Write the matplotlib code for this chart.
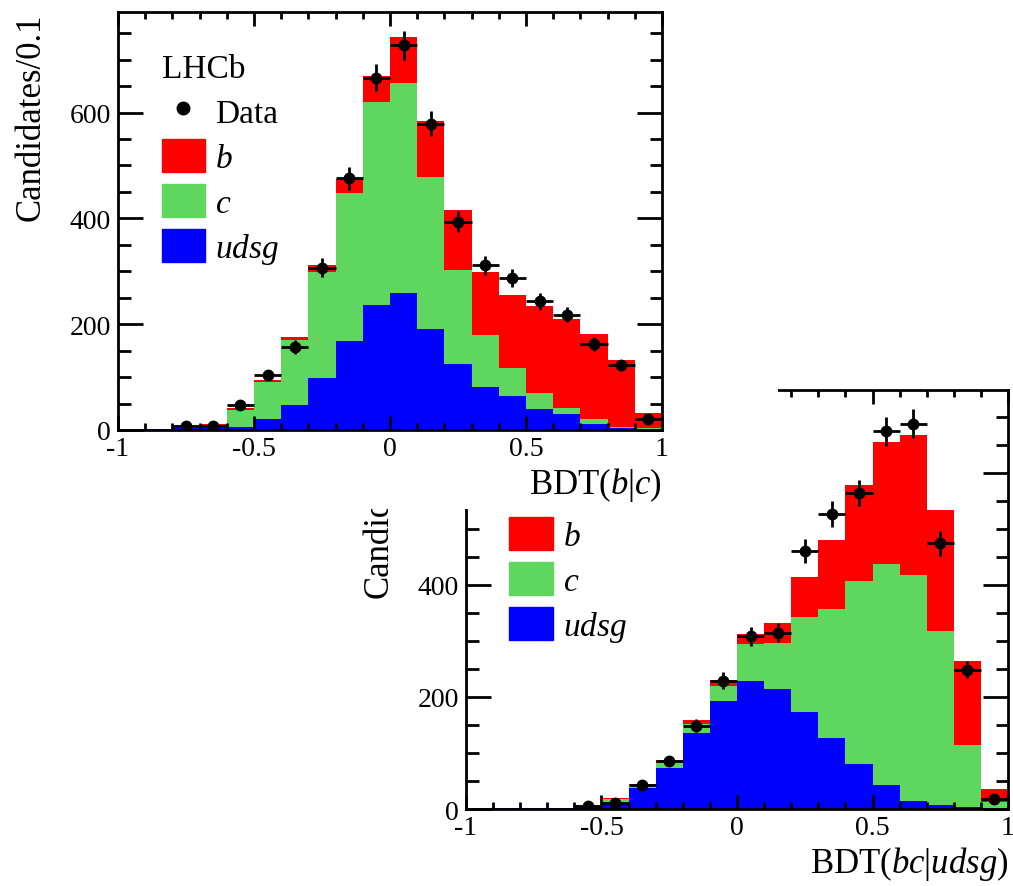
import numpy as np
import matplotlib.pyplot as plt
from matplotlib.lines import Line2D
from matplotlib.patches import Patch, Rectangle
from matplotlib.ticker import MultipleLocator, FuncFormatter

plt.rcParams['font.family'] = 'Liberation Serif'
plt.rcParams['mathtext.fontset'] = 'custom'
plt.rcParams['mathtext.rm'] = 'Liberation Serif'
plt.rcParams['mathtext.it'] = 'Liberation Serif:italic'
plt.rcParams['axes.unicode_minus'] = False

edges = np.round(np.linspace(-1, 1, 21), 2)
centres = 0.5 * (edges[:-1] + edges[1:])

# BDT(b|c) templates and data
bc_udsg = [1, 1, 4, 4, 5, 20, 47, 98, 168, 237, 259, 190, 124, 81, 64, 40, 30, 11, 4, 2]
bc_c = [1, 1, 5, 6, 33, 71, 124, 201, 280, 383, 397, 288, 178, 98, 54, 30, 11, 10, 2, 1]
bc_b = [0, 0, 1, 1, 3, 4, 5, 13, 26, 50, 86, 106, 113, 120, 137, 164, 168, 161, 126, 30]
bc_data = [np.nan, np.nan, 8, 8, 48, 104, 157, 307, 476, 666, 727, 579, 394, 311, 287, 243, 218, 163, 122, 21]

# BDT(bc|udsg) templates and data
bcu_udsg = [1, 1, 1, 1, 5, 13, 37, 73, 136, 193, 229, 214, 174, 127, 80, 43, 15, 8, 4, 2]
bcu_c = [0, 0, 0, 0, 1, 4, 5, 9, 16, 27, 65, 82, 168, 230, 327, 394, 403, 310, 111, 10]
bcu_b = [0, 0, 0, 0, 1, 3, 3, 5, 6, 11, 18, 36, 73, 123, 172, 219, 249, 216, 150, 24]
bcu_data = [np.nan, np.nan, np.nan, np.nan, 6, 11, 43, 86, 149, 229, 308, 315, 461, 527, 564, 674, 688, 474, 249, 18]

colours = ['#0000ff', '#5fd75f', '#ff0000']


def draw_panel(ax, udsg, c, b, data, xlabel, ymax):
    ax.hist([centres] * 3, bins=edges, weights=[udsg, c, b], stacked=True,
            histtype='stepfilled', color=colours, linewidth=0)
    data = np.array(data, dtype=float)
    ax.errorbar(centres, data, xerr=0.05, yerr=np.sqrt(data), fmt='o',
                color='black', ms=7.5, elinewidth=2, capsize=0)
    ax.set_xlim(-1, 1)
    ax.set_ylim(0, ymax)
    ax.xaxis.set_major_locator(MultipleLocator(0.5))
    ax.xaxis.set_minor_locator(MultipleLocator(0.1))
    ax.yaxis.set_major_locator(MultipleLocator(200))
    ax.yaxis.set_minor_locator(MultipleLocator(50))
    ax.xaxis.set_major_formatter(FuncFormatter(lambda v, p: '%g' % v))
    ax.tick_params(which='both', direction='in', top=True, right=True,
                   labelsize=20, width=2)
    ax.tick_params(axis='x', which='major', length=10, pad=4)
    ax.tick_params(axis='x', which='minor', length=5)
    ax.tick_params(axis='y', which='major', length=18, pad=5)
    ax.tick_params(axis='y', which='minor', length=9)
    for s in ax.spines.values():
        s.set_linewidth(2)
    ax.set_xlabel(xlabel, fontsize=25, loc='right', labelpad=3)
    ax.set_ylabel('Candidates/0.1', fontsize=25, loc='top', labelpad=16)

    handles = [Line2D([], [], marker='o', color='black', ls='none', ms=9),
               Patch(color=colours[2]), Patch(color=colours[1]), Patch(color=colours[0])]
    labels = ['Data', '$b$', '$c$', '$udsg$']
    ax.legend(handles, labels, loc='upper left', bbox_to_anchor=(0.08, 0.9),
              frameon=False, fontsize=24, title='LHCb', title_fontsize=24,
              alignment='left', handlelength=1.3, handleheight=1.15,
              handletextpad=0.3, labelspacing=0.3, borderpad=0, borderaxespad=0)


fig = plt.figure(figsize=(10.13, 8.87), dpi=100)

ax2 = fig.add_axes([0.46, 0.0868, 0.5351, 0.4724])
draw_panel(ax2, bcu_udsg, bcu_c, bcu_b, bcu_data, 'BDT($bc$|$udsg$)', 748)

# white backing for the upper panel, drawn over the lower one
fig.add_artist(Rectangle((0, 0.425), 0.768, 0.575, transform=fig.transFigure,
                         facecolor='white', edgecolor='none', zorder=1))

ax1 = fig.add_axes([0.1165, 0.5141, 0.537, 0.4712])
ax1.set_zorder(2)
draw_panel(ax1, bc_udsg, bc_c, bc_b, bc_data, 'BDT($b$|$c$)', 790)

fig.savefig('out.png', dpi=100)
